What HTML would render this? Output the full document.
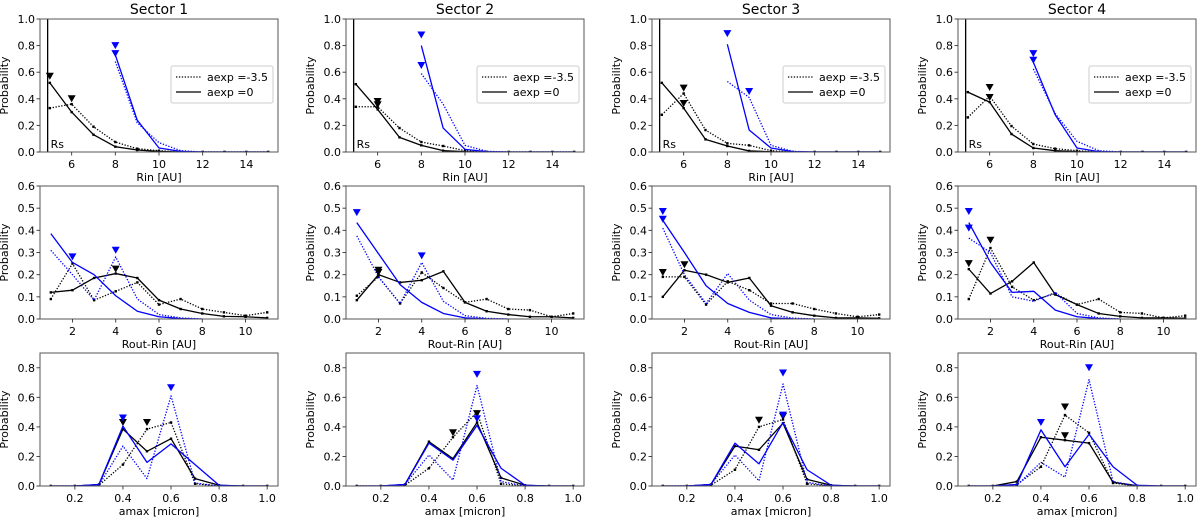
<!DOCTYPE html>
<html><head><meta charset="utf-8"><style>
html,body{margin:0;padding:0;background:#fff;}
svg{display:block;font-family:"DejaVu Sans","Liberation Sans",sans-serif;}
</style></head><body>
<svg id="fig" width="1200" height="519" viewBox="0 0 1200 519" xmlns="http://www.w3.org/2000/svg"></svg>
<script>
// ---- data ----
const sectorTitles = ["Sector 1","Sector 2","Sector 3","Sector 4"];
const rinX = [5,6,7,8,9,10,11,12,13,14,15];
const rinBlueX = [8,9,10,11,12,13,14,15];
const routX = [1,2,3,4,5,6,7,8,9,10,11];
const routBlueX = [1,2,3,4,5,6,7,8];
const amaxX = [0.1,0.2,0.3,0.4,0.5,0.6,0.7,0.8,0.9,1.0];

const rinBlackSolid = [
 [0.52,0.30,0.13,0.04,0.015,0.005,0,0,0,0,0],
 [0.51,0.32,0.11,0.05,0.01,0.003,0,0,0,0,0],
 [0.52,0.33,0.095,0.045,0.008,0.002,0,0,0,0,0],
 [0.45,0.375,0.135,0.03,0.01,0.003,0,0,0,0,0]];
const rinBlackDotted = [
 [0.33,0.36,0.19,0.075,0.025,0.01,0,0,0,0,0],
 [0.34,0.34,0.18,0.075,0.045,0.01,0,0,0,0,0],
 [0.28,0.44,0.165,0.065,0.05,0.01,0,0,0,0,0],
 [0.26,0.42,0.195,0.06,0.025,0.01,0,0,0,0,0]];
const rinBlueSolid = [
 [0.73,0.24,0.03,0.005,0,0,0,0],
 [0.80,0.18,0.02,0.003,0,0,0,0],
 [0.81,0.165,0.03,0.003,0,0,0,0],
 [0.675,0.28,0.03,0.003,0,0,0,0]];
const rinBlueDotted = [
 [0.68,0.22,0.07,0.01,0,0,0,0],
 [0.59,0.36,0.05,0.005,0,0,0,0],
 [0.53,0.41,0.05,0.005,0,0,0,0],
 [0.625,0.29,0.08,0.01,0,0,0,0]];
const rinMarkBlack = [[[5,0.57],[6,0.40]],[[6,0.38],[6,0.355]],[[6,0.48],[6,0.365]],[[6,0.485],[6,0.41]]];
const rinMarkBlue = [[[8,0.80],[8,0.74]],[[8,0.88],[8,0.65]],[[8,0.89],[9,0.455]],[[8,0.74],[8,0.69]]];

const routBlackSolid = [
 [0.12,0.13,0.185,0.205,0.185,0.085,0.045,0.025,0.012,0.01,0.005],
 [0.085,0.20,0.165,0.175,0.215,0.075,0.035,0.02,0.01,0.01,0.005],
 [0.10,0.22,0.20,0.165,0.185,0.06,0.03,0.015,0.005,0.005,0.003],
 [0.225,0.115,0.17,0.255,0.11,0.065,0.025,0.012,0.005,0.005,0.003]];
const routBlackDotted = [
 [0.09,0.25,0.085,0.125,0.165,0.065,0.09,0.045,0.03,0.015,0.03],
 [0.105,0.19,0.07,0.21,0.14,0.075,0.09,0.045,0.04,0.01,0.025],
 [0.19,0.19,0.065,0.17,0.13,0.07,0.07,0.045,0.025,0.01,0.02],
 [0.09,0.32,0.145,0.085,0.115,0.065,0.09,0.03,0.025,0.005,0.015]];
const routBlueSolid = [
 [0.385,0.255,0.20,0.105,0.035,0.01,0.002,0],
 [0.435,0.295,0.155,0.075,0.025,0.005,0.001,0],
 [0.445,0.30,0.15,0.07,0.03,0.005,0.001,0],
 [0.435,0.255,0.12,0.125,0.04,0.01,0.002,0]];
const routBlueDotted = [
 [0.31,0.20,0.085,0.28,0.09,0.02,0.005,0],
 [0.375,0.19,0.07,0.255,0.08,0.015,0.003,0],
 [0.41,0.20,0.07,0.205,0.085,0.02,0.004,0],
 [0.365,0.30,0.10,0.08,0.12,0.025,0.005,0]];
const routMarkBlack = [[[4,0.225]],[[2,0.22],[2,0.21]],[[1,0.21],[2,0.245]],[[1,0.25],[2,0.355]]];
const routMarkBlue = [[[2,0.28],[4,0.31]],[[1,0.48],[4,0.285]],[[1,0.485],[1,0.45]],[[1,0.485],[1,0.41]]];

const amaxBlackSolid = [
 [0,0,0.01,0.385,0.235,0.32,0.05,0.005,0,0],
 [0,0,0.01,0.30,0.185,0.43,0.055,0.005,0,0],
 [0,0,0.01,0.27,0.245,0.425,0.045,0.005,0,0],
 [0,0,0.03,0.33,0.31,0.29,0.025,0.002,0,0]];
const amaxBlackDotted = [
 [0,0,0.005,0.145,0.385,0.43,0.015,0,0,0],
 [0,0,0.005,0.12,0.33,0.50,0.015,0,0,0],
 [0,0,0.005,0.11,0.40,0.45,0.015,0,0,0],
 [0,0,0.01,0.13,0.48,0.36,0.02,0,0,0]];
const amaxBlueSolid = [
 [0,0,0.01,0.405,0.16,0.285,0.145,0.005,0,0],
 [0,0,0.01,0.29,0.175,0.41,0.12,0.005,0,0],
 [0,0,0.01,0.29,0.15,0.43,0.11,0.005,0,0],
 [0,0,0.01,0.38,0.13,0.35,0.13,0.005,0,0]];
const amaxBlueDotted = [
 [0,0,0.005,0.27,0.05,0.61,0.02,0,0,0],
 [0,0,0.01,0.21,0.04,0.68,0.03,0,0,0],
 [0,0,0.01,0.21,0.035,0.69,0.025,0,0,0],
 [0,0,0.005,0.16,0.06,0.72,0.03,0,0,0]];
const amaxMarkBlack = [[[0.4,0.43],[0.5,0.43]],[[0.5,0.36],[0.6,0.49]],[[0.5,0.445],[0.6,0.47]],[[0.5,0.535],[0.5,0.34]]];
const amaxMarkBlue = [[[0.4,0.46],[0.6,0.665]],[[0.6,0.755],[0.6,0.455]],[[0.6,0.765],[0.6,0.48]],[[0.4,0.43],[0.6,0.80]]];

const rinXTicks = [6,8,10,12,14];
const rinYTicks = [0,0.2,0.4,0.6,0.8,1.0];
const routXTicks = [2,4,6,8,10];
const routYTicks = [0,0.1,0.2,0.3,0.4,0.5,0.6];
const amaxXTicks = [0.2,0.4,0.6,0.8,1.0];
const amaxYTicks = [0,0.2,0.4,0.6,0.8];
const rsValue = 4.9;

// ---- drawing ----
const NS = "http://www.w3.org/2000/svg";
const svg = document.getElementById('fig');
function mk(tag, attrs, parent){
  const e = document.createElementNS(NS, tag);
  for (const k in attrs) e.setAttribute(k, attrs[k]);
  (parent||svg).appendChild(e);
  return e;
}
const colLeft = [40,346,652,958];
const W = 238;
const FS = 11;
const rows = [
 {top:19, bot:152, xmin:4.55, xmax:15.45, ymax:1.0, xt:rinXTicks, yt:rinYTicks, fx:v=>String(v), fy:v=>v.toFixed(1), label:"Rin [AU]"},
 {top:186, bot:319, xmin:0.5, xmax:11.5, ymax:0.6, xt:routXTicks, yt:routYTicks, fx:v=>String(v), fy:v=>v.toFixed(1), label:"Rout-Rin [AU]"},
 {top:353, bot:486, xmin:0.055, xmax:1.045, ymax:0.9, xt:amaxXTicks, yt:amaxYTicks, fx:v=>v.toFixed(1), fy:v=>v.toFixed(1), label:"amax [micron]"}
];

function drawLine(g, xs, ys, sx, sy, color, dotted, name){
  const pts = xs.map((x,i)=>sx(x).toFixed(2)+","+sy(ys[i]).toFixed(2)).join(" ");
  const pl = mk('polyline',{points:pts, fill:'none', stroke:color, 'stroke-width':1.3,
    'stroke-dasharray': dotted ? '1.3,1.6' : 'none', 'stroke-linejoin':'round'}, g);
  
  
  if (color === '#000') {
    xs.forEach((x,i)=>{
      const d = mk('rect',{x:sx(x)-1.2, y:sy(ys[i])-1.2, width:2.4, height:2.4, fill:'#000'}, g);
      
      
    });
  }
}
function drawMarks(g, marks, sx, sy, color, name){
  marks.forEach(m=>{
    const cx = sx(m[0]), cy = sy(m[1]);
    const t = mk('polygon',{points:`${cx-4},${cy-3.5} ${cx+4},${cy-3.5} ${cx},${cy+3.5}`, fill:color}, g);
    
    
  });
}

for (let s=0; s<4; s++){
  const L = colLeft[s];
  const title = mk('text',{x:L+W/2, y:14, 'text-anchor':'middle', 'font-size':14, fill:'#000'});
  title.textContent = sectorTitles[s];
  
  

  rows.forEach((r, ri)=>{
    const g = mk('g',{});
    
    
    const sx = v => L + (v - r.xmin)/(r.xmax - r.xmin)*W;
    const sy = v => r.bot - v/r.ymax*(r.bot - r.top);
    const clipId = 'c'+s+'_'+ri;
    const cp = mk('clipPath',{id:clipId}, g);
    mk('rect',{x:L, y:r.top, width:W, height:r.bot-r.top}, cp);
    const data = mk('g',{'clip-path':`url(#${clipId})`}, g);

    if (ri===0){
      const rs = mk('line',{x1:sx(rsValue), x2:sx(rsValue), y1:r.top, y2:r.bot, stroke:'#000', 'stroke-width':1.3}, data);
      
      
      const rt = mk('text',{x:sx(rsValue)+3, y:r.bot-4, 'font-size':FS, fill:'#000'}, g);
      rt.textContent = 'Rs';
      
      
      drawLine(data, rinX, rinBlackDotted[s], sx, sy, '#000', true, 'black-dotted-line');
      drawLine(data, rinX, rinBlackSolid[s], sx, sy, '#000', false, 'black-solid-line');
      drawLine(data, rinBlueX, rinBlueDotted[s], sx, sy, '#00f', true, 'blue-dotted-line');
      drawLine(data, rinBlueX, rinBlueSolid[s], sx, sy, '#00f', false, 'blue-solid-line');
      drawMarks(g, rinMarkBlack[s], sx, sy, '#000', 'black-peak-marker');
      drawMarks(g, rinMarkBlue[s], sx, sy, '#00f', 'blue-peak-marker');
    } else if (ri===1){
      drawLine(data, routX, routBlackDotted[s], sx, sy, '#000', true, 'black-dotted-line');
      drawLine(data, routX, routBlackSolid[s], sx, sy, '#000', false, 'black-solid-line');
      drawLine(data, routBlueX, routBlueDotted[s], sx, sy, '#00f', true, 'blue-dotted-line');
      drawLine(data, routBlueX, routBlueSolid[s], sx, sy, '#00f', false, 'blue-solid-line');
      drawMarks(g, routMarkBlack[s], sx, sy, '#000', 'black-peak-marker');
      drawMarks(g, routMarkBlue[s], sx, sy, '#00f', 'blue-peak-marker');
    } else {
      drawLine(data, amaxX, amaxBlackDotted[s], sx, sy, '#000', true, 'black-dotted-line');
      drawLine(data, amaxX, amaxBlackSolid[s], sx, sy, '#000', false, 'black-solid-line');
      drawLine(data, amaxX, amaxBlueDotted[s], sx, sy, '#00f', true, 'blue-dotted-line');
      drawLine(data, amaxX, amaxBlueSolid[s], sx, sy, '#00f', false, 'blue-solid-line');
      drawMarks(g, amaxMarkBlack[s], sx, sy, '#000', 'black-peak-marker');
      drawMarks(g, amaxMarkBlue[s], sx, sy, '#00f', 'blue-peak-marker');
    }

    const fr = mk('rect',{x:L, y:r.top, width:W, height:r.bot-r.top, fill:'none', stroke:'#555', 'stroke-width':1}, g);
    
    
    r.xt.forEach(v=>{
      const x = sx(v);
      mk('line',{x1:x,x2:x,y1:r.bot,y2:r.bot+3.5,stroke:'#333','stroke-width':0.9}, g);
      const t = mk('text',{x:x, y:r.bot+16, 'text-anchor':'middle','font-size':FS, fill:'#000'}, g);
      t.textContent = r.fx(v);
      
      
    });
    r.yt.forEach(v=>{
      const y = sy(v);
      mk('line',{x1:L-3.5,x2:L,y1:y,y2:y,stroke:'#333','stroke-width':0.9}, g);
      const t = mk('text',{x:L-5, y:y+4, 'text-anchor':'end','font-size':FS, fill:'#000'}, g);
      t.textContent = r.fy(v);
      
      
    });
    const xl = mk('text',{x:L+W/2, y:r.bot+29, 'text-anchor':'middle','font-size':FS, fill:'#000'}, g);
    xl.textContent = r.label;
    
    
    const yc = (r.top+r.bot)/2;
    const yl = mk('text',{x:L-32, y:yc, 'text-anchor':'middle','font-size':FS, fill:'#000', transform:`rotate(-90 ${L-32} ${yc})`}, g);
    yl.textContent = 'Probability';
    
    

    if (ri===0){
      const lg = mk('g',{}, g);
      
      
      const lx = L+131, ly = r.top+47;
      mk('rect',{x:lx, y:ly, width:102, height:37, rx:2, fill:'#fff', stroke:'#ccc', 'stroke-width':1}, lg);
      mk('line',{x1:lx+5,x2:lx+30,y1:ly+11,y2:ly+11,stroke:'#000','stroke-width':1.3,'stroke-dasharray':'1.3,1.6'}, lg);
      mk('line',{x1:lx+5,x2:lx+30,y1:ly+26,y2:ly+26,stroke:'#000','stroke-width':1.3}, lg);
      const t1 = mk('text',{x:lx+36, y:ly+15,'font-size':FS, fill:'#000'}, lg);
      t1.textContent = 'aexp =-3.5';
      
      
      const t2 = mk('text',{x:lx+36, y:ly+30,'font-size':FS, fill:'#000'}, lg);
      t2.textContent = 'aexp =0';
      
      
    }
  });
}
</script>
</body></html>
